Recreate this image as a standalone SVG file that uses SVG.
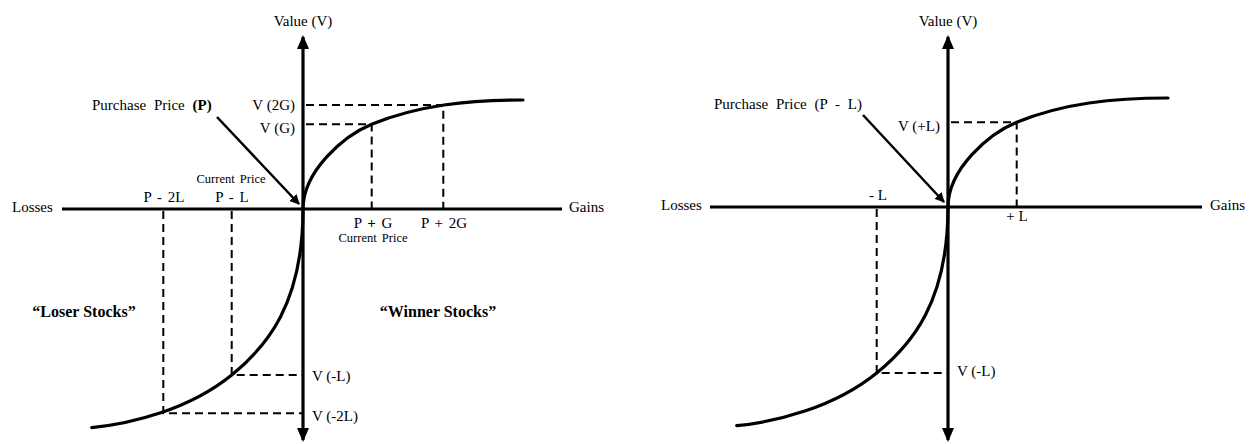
<svg xmlns="http://www.w3.org/2000/svg" width="1256" height="444" viewBox="0 0 1256 444">
<defs>
<style>
text{font-family:"Liberation Serif","DejaVu Serif","Noto Serif",serif;fill:#000;font-size:15px}
.sm{font-size:12.5px}
.b{font-weight:bold;font-size:16px}
.axis{stroke:#000;stroke-width:3.2;fill:none}
.curve{stroke:#000;stroke-width:3.2;fill:none;stroke-linecap:round}
.dash{stroke:#000;stroke-width:2;fill:none;stroke-dasharray:8 5}
.ptr{stroke:#000;stroke-width:2.5;fill:none}
</style>
<marker id="ah" markerWidth="10" markerHeight="10" refX="9" refY="5" orient="auto" markerUnits="userSpaceOnUse" viewBox="0 0 10 10">
<path d="M0,0 L10,5 L0,10 z" fill="#000"/>
</marker>
<marker id="axh" markerWidth="14" markerHeight="12" refX="12" refY="6" orient="auto" markerUnits="userSpaceOnUse" viewBox="0 0 14 12">
<path d="M0,0 L14,6 L0,12 z" fill="#000"/>
</marker>
<path id="upper" class="curve" d="M303,209 C303,171 343.95,135.7 371.7,124.3 C417.95,105.3 468,100 523,100"/>
<path id="lower" class="curve" d="M303,209 C303,304 266.6,346.65 231.7,375 C189,409.65 131.5,423.7 91.7,427.7"/>
</defs>

<g id="connectors">
<path class="dash" d="M306,105 H443.3 V209"/>
<path class="dash" d="M306,124.3 H371.7 V209"/>
<path class="dash" d="M231.7,211 V375 H303"/>
<path class="dash" d="M163.3,211 V413.3 H303"/>
<path class="dash" d="M951,122.3 H1016.7 V207"/>
<path class="dash" d="M876.7,209 V373 H948"/>
<line class="ptr" x1="217" y1="117" x2="299" y2="204" marker-end="url(#ah)"/>
<line class="ptr" x1="863" y1="115" x2="944" y2="202" marker-end="url(#ah)"/>
</g>

<g id="left-axes">
<line class="axis" x1="62" y1="209" x2="562" y2="209"/>
<line class="axis" x1="303" y1="209" x2="303" y2="37" marker-end="url(#axh)"/>
<line class="axis" x1="303" y1="209" x2="303" y2="440" marker-end="url(#axh)"/>
</g>
<g id="left-curve">
<use href="#upper"/>
<use href="#lower"/>
</g>
<g id="left-labels" font-family="Liberation Serif, DejaVu Serif, serif">
<text x="303" y="26" text-anchor="middle">Value (V)</text>
<text x="12" y="212">Losses</text>
<text x="569" y="212">Gains</text>
<text x="92" y="110" word-spacing="4">Purchase Price <tspan font-weight="bold">(P)</tspan></text>
<text x="295" y="110" text-anchor="end">V (2G)</text>
<text x="295" y="133" text-anchor="end">V (G)</text>
<text class="sm" x="231" y="183" text-anchor="middle" word-spacing="2">Current Price</text>
<text x="164" y="202" text-anchor="middle" word-spacing="2">P - 2L</text>
<text x="232" y="202" text-anchor="middle" word-spacing="2">P - L</text>
<text x="373" y="228" text-anchor="middle" word-spacing="2">P <tspan font-weight="bold">+</tspan> G</text>
<text x="444" y="228" text-anchor="middle" word-spacing="2">P + 2G</text>
<text class="sm" x="373" y="242" text-anchor="middle" word-spacing="2">Current Price</text>
<text class="b" x="84" y="317" text-anchor="middle">“Loser Stocks”</text>
<text class="b" x="438" y="317" text-anchor="middle">“Winner Stocks”</text>
<text x="312" y="381">V (-L)</text>
<text x="312" y="421">V (-2L)</text>
</g>

<g id="right-axes">
<line class="axis" x1="710" y1="207" x2="1202" y2="207"/>
<line class="axis" x1="948" y1="207" x2="948" y2="37" marker-end="url(#axh)"/>
<line class="axis" x1="948" y1="207" x2="948" y2="440" marker-end="url(#axh)"/>
</g>
<g id="right-curve" transform="translate(645,-2)">
<use href="#upper"/>
<use href="#lower"/>
</g>
<g id="right-labels" font-family="Liberation Serif, DejaVu Serif, serif">
<text x="948" y="26" text-anchor="middle">Value (V)</text>
<text x="661" y="210">Losses</text>
<text x="1210" y="210">Gains</text>
<text x="714" y="109" word-spacing="4">Purchase Price (P - L)</text>
<text x="940" y="131" text-anchor="end">V (+L)</text>
<text x="878" y="200" text-anchor="middle">- L</text>
<text x="1017" y="221" text-anchor="middle">+ L</text>
<text x="957" y="376">V (-L)</text>
</g>
</svg>
